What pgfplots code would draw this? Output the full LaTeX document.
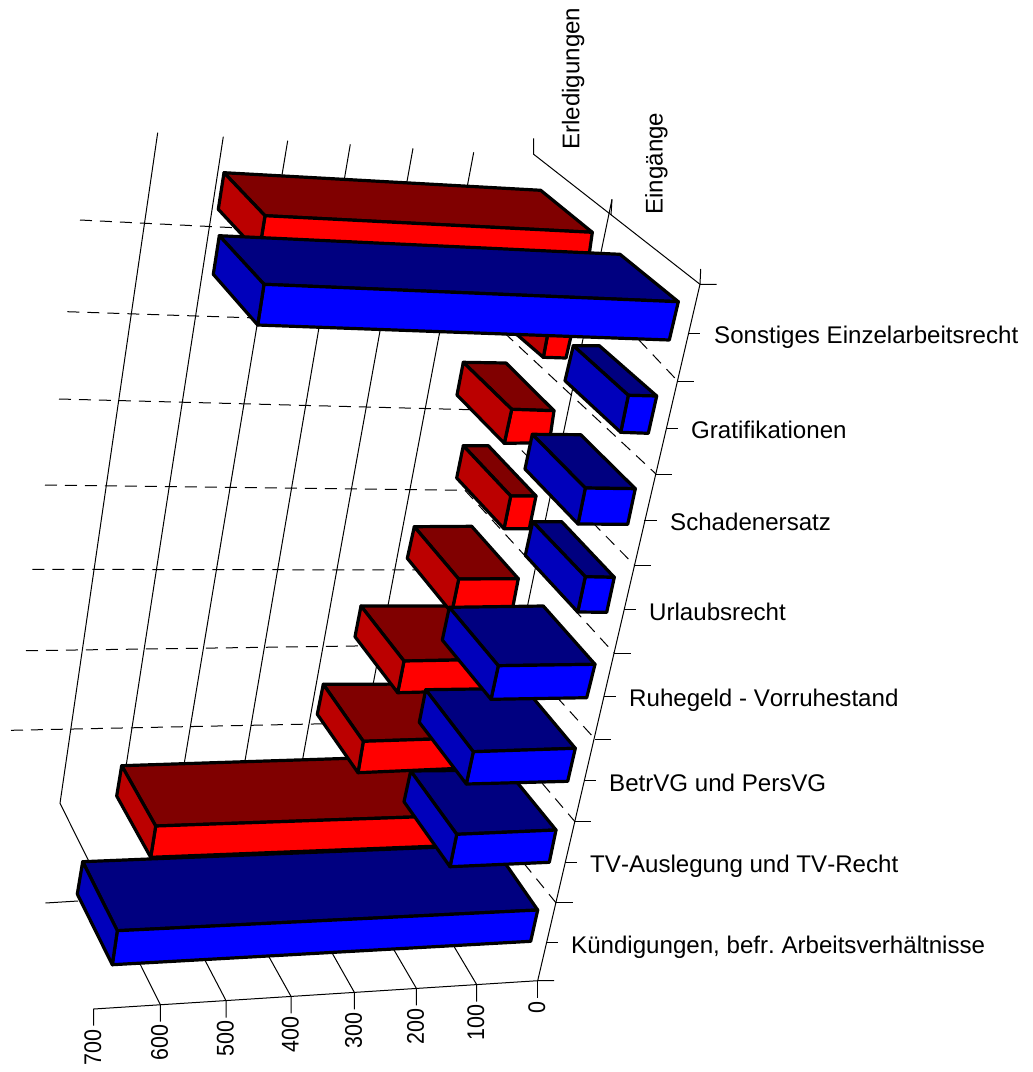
\documentclass[border=0pt]{standalone}
\usepackage{fontspec}
\setmainfont[Kerning=Off]{Liberation Sans}
\usepackage{pgfplots}
\pgfplotsset{compat=1.18}

\definecolor{redtop}{HTML}{800000}
\definecolor{redside}{HTML}{BB0000}
\definecolor{redfront}{HTML}{FF0000}
\definecolor{bluetop}{HTML}{000080}
\definecolor{blueside}{HTML}{0000BB}
\definecolor{bluefront}{HTML}{0000FF}

% One bar: colour prefix, then back-left, front-left, front-right, back-right
% corners of the upper face, and low back, low front-left, low front-right.
\newcommand{\Cuboid}[8]{%
  \addplot[barface, fill=#1top]   coordinates {#2 #3 #4 #5} -- cycle;
  \addplot[barface, fill=#1front] coordinates {#3 #4 #8 #7} -- cycle;
  \addplot[barface, fill=#1side]  coordinates {#2 #3 #7 #6} -- cycle;
}
\newcommand{\CatLabel}[3]{\node[anchor=base west, inner sep=0pt] at (axis cs:#1,#2) {#3};}
\newcommand{\ValLabel}[3]{\node[anchor=base east, rotate=90, inner sep=0pt] at (axis cs:#1,#2) {\scalebox{0.89}[1]{#3}};}

\begin{document}
\begin{tikzpicture}
\path[use as bounding box] (0,0) rectangle (1033pt,1072pt);
\begin{axis}[
  at={(0,0)}, anchor=south west,
  scale only axis, width=1033pt, height=1072pt,
  xmin=0, xmax=1033, ymin=0, ymax=1072, y dir=reverse,
  hide axis, clip=false,
  every axis plot/.append style={no markers},
  barface/.style={draw=black, line width=3.2pt, line join=round},
  thinline/.style={draw=black, line width=1pt},
  dashline/.style={draw=black, line width=1pt, dash pattern=on 12pt off 8pt},
  font=\fontsize{24.1}{28}\selectfont,
]
% value rules on the rear wall and the floor
\addplot[thinline] coordinates {(157.7,132.7) (60,803.3) (160.3,1004.6) (160.3,1021.6)};
\addplot[thinline] coordinates {(223.3,136.7) (121,799) (226,1000.6) (226,1017.6)};
\addplot[thinline] coordinates {(287.7,140.7) (179,795) (291,996.4) (291,1013.4)};
\addplot[thinline] coordinates {(350.3,144.3) (240,790) (354.4,992.4) (354.4,1009.4)};
\addplot[thinline] coordinates {(413,148.3) (298,785) (416.4,988.4) (416.4,1005.4)};
\addplot[thinline] coordinates {(473.7,152.3) (355,780) (476.7,984.6) (476.7,1001.6)};
\addplot[thinline] coordinates {(612,199.3) (527.7,605) (492,780)};
% outer frame and axis ticks
\addplot[thinline] coordinates {(533.7,138.3) (533.7,154.3) (700,284.3) (716.7,284.3)};
\addplot[thinline] coordinates {(612,199.3) (611,215)};
\addplot[thinline] coordinates {(700.7,269) (700,284.3) (537.7,980.7) (554,980.7)};
\addplot[thinline] coordinates {(537.7,980.7) (93.7,1009) (93.7,1025.5)};
\addplot[thinline] coordinates {(537.7,980.7) (537.7,997.7)};
\addplot[thinline] coordinates {(45.5,903) (78,901)};
% category ticks
\addplot[thinline] coordinates {(689.3,333.3) (700,333.3)};
\addplot[thinline] coordinates {(677.7,381) (694.3,381)};
\addplot[thinline] coordinates {(666.7,428.3) (677.7,428.3)};
\addplot[thinline] coordinates {(656,474) (672.3,474)};
\addplot[thinline] coordinates {(644.3,520) (656.7,520)};
\addplot[thinline] coordinates {(634.3,565) (651,565)};
\addplot[thinline] coordinates {(624,609.3) (635.7,609.3)};
\addplot[thinline] coordinates {(614,653) (630.7,653)};
\addplot[thinline] coordinates {(604,696) (615.7,696)};
\addplot[thinline] coordinates {(595,739) (610.7,739)};
\addplot[thinline] coordinates {(585,780.3) (596,780.3)};
\addplot[thinline] coordinates {(575,821.7) (591,821.7)};
\addplot[thinline] coordinates {(565,862.7) (576.7,862.7)};
\addplot[thinline] coordinates {(555.9,902.7) (572.7,902.7)};
\addplot[thinline] coordinates {(546.6,942.3) (558.3,942.3)};
% category rules, dashed
\addplot[dashline] coordinates {(80,220) (300,231) (620,320) (677.7,381)};
\addplot[dashline] coordinates {(67.3,311.7) (497,326) (656,474)};
\addplot[dashline] coordinates {(59,399) (482,410) (634.3,565)};
\addplot[dashline] coordinates {(45,485) (465,490.3) (614,653)};
\addplot[dashline] coordinates {(32.3,569.3) (441,570) (595,739)};
\addplot[dashline] coordinates {(26,650.7) (424,645) (575,821.7)};
\addplot[dashline] coordinates {(11,730.3) (409,722) (555.9,902.7)};

% bars, nearest row at the end
\Cuboid{red}{(121.7,765.7)}{(155.7,826)}{(470,815)}{(420,756)}{(116.7,796)}{(150.7,857.3)}{(465,845)}
\Cuboid{blue}{(82.7,861.7)}{(117.3,930.7)}{(537.7,910)}{(492.5,845)}{(77.3,894)}{(112.3,964.7)}{(530.7,941.3)}
\Cuboid{red}{(323.3,684.3)}{(363.3,741.3)}{(495,737)}{(442,684)}{(317.3,714.3)}{(358,772.7)}{(490,767)}
\Cuboid{blue}{(410.7,771)}{(456.7,834.3)}{(556,830)}{(507,770)}{(404,801.7)}{(450,866.7)}{(549.3,862.3)}
\Cuboid{red}{(361,606)}{(404,661)}{(508,659)}{(462,606)}{(355,636.7)}{(397.7,692.7)}{(503,690)}
\Cuboid{blue}{(425.7,689.7)}{(473.3,751.7)}{(575.3,748.3)}{(525,688.3)}{(419.3,722.3)}{(466.3,784)}{(567.7,781.3)}
\Cuboid{red}{(414.3,526.7)}{(458.7,579)}{(518.3,578.7)}{(471.7,526.3)}{(407.3,558.3)}{(451.7,612.7)}{(511.7,612.7)}
\Cuboid{blue}{(449.3,607.3)}{(498.3,665.7)}{(595,664.3)}{(543.3,606)}{(442.3,640)}{(491,699.3)}{(586.7,697.7)}
\Cuboid{red}{(463.3,445.7)}{(510.7,496)}{(536,496)}{(488.3,445.7)}{(456.7,478)}{(504,528.7)}{(529.3,528.7)}
\Cuboid{blue}{(532.7,521.7)}{(585.3,576.7)}{(614.3,577.3)}{(561.7,521.7)}{(525.3,555.3)}{(577.7,612)}{(606.7,612.3)}
\Cuboid{red}{(463.3,362.3)}{(511.7,409.3)}{(554,410.7)}{(506,363)}{(457,395)}{(504.3,443.3)}{(549.3,442.7)}
\Cuboid{blue}{(532.3,434.3)}{(585.3,488)}{(635.3,488.7)}{(580.7,434.7)}{(525,469)}{(578,524)}{(627.7,524.3)}
\Cuboid{red}{(506,285)}{(550,322)}{(574,323)}{(530,285)}{(500,320)}{(543.3,357.3)}{(566,358)}
\Cuboid{blue}{(573.3,345.7)}{(628.3,395.3)}{(656.7,396)}{(599.3,345.7)}{(565,380.7)}{(620.7,432.3)}{(648.3,433.3)}
\Cuboid{red}{(224,172.7)}{(265,215.7)}{(592.3,232.3)}{(540.7,190.3)}{(218.3,209.3)}{(259,253)}{(587,270)}
\Cuboid{blue}{(219.3,235.7)}{(264,284.3)}{(678.3,301.7)}{(620,254.3)}{(213.3,274.3)}{(257.7,325)}{(669.3,340)}

% category names
\CatLabel{571}{953}{Kündigungen, befr.\ Arbeitsverhältnisse}
\CatLabel{590}{872}{TV-Auslegung und TV-Recht}
\CatLabel{609}{791}{BetrVG und PersVG}
\CatLabel{629}{706}{Ruhegeld - Vorruhestand}
\CatLabel{649}{620}{Urlaubsrecht}
\CatLabel{670}{530}{Schadenersatz}
\CatLabel{691}{438}{Gratifikationen}
\CatLabel{714}{343}{Sonstiges Einzelarbeitsrecht}
% series names
\node[anchor=base east, rotate=90, inner sep=0pt] at (axis cs:579.3,7.5) {Erledigungen};
\node[anchor=base east, rotate=90, inner sep=0pt] at (axis cs:662.7,112.5) {Eingänge};
% value labels
\ValLabel{101.2}{1029}{700}
\ValLabel{167.8}{1024.6}{600}
\ValLabel{233.5}{1020.4}{500}
\ValLabel{298.5}{1016.2}{400}
\ValLabel{361.9}{1012.2}{300}
\ValLabel{423.9}{1008.2}{200}
\ValLabel{484.2}{1004.4}{100}
\ValLabel{545.2}{1001.5}{0}
\end{axis}
\end{tikzpicture}
\end{document}
